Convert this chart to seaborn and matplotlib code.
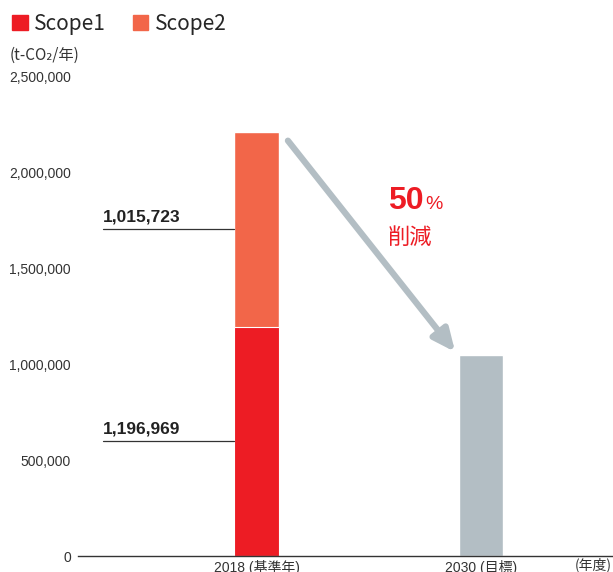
import numpy as np
import matplotlib
matplotlib.use("Agg")
import matplotlib.pyplot as plt
import matplotlib.patches as mpatches
import pandas as pd
import seaborn as sns

# data
years = ["2018 (基準年)", "2030 (目標)"]
scope1 = [1196969, 0]
scope2 = [1015723, 0]
target_2030 = 1050000
yticks = [0, 500000, 1000000, 1500000, 2000000, 2500000]

red = "#ed1c24"
orange = "#f26649"
gray = "#b3bec4"

sns.set_theme(style="white")
plt.rcParams['font.family'] = ['Liberation Sans', 'Noto Sans CJK JP', 'DejaVu Sans']

totals = [scope1[0] + scope2[0], target_2030]
df = pd.DataFrame({"year": years, "total": totals, "scope1": scope1})

fig = plt.figure(figsize=(6.13, 5.72), dpi=100)
ax = fig.add_axes([78 / 613, 16 / 572, 535 / 613, 479 / 572])

# orange = total for 2018, gray for 2030 target
sns.barplot(data=df, x="year", y="total", hue="year", palette=[orange, gray],
            width=0.2, legend=False, ax=ax, saturation=1)
# red scope1 on the bottom
sns.barplot(data=df.iloc[:1], x="year", y="scope1", color=red, width=0.2,
            ax=ax, saturation=1, edgecolor="white", linewidth=0.8)

ax.set_ylim(0, 2500000)
ax.set_xlim(-0.795, 1.588)
ax.set_yticks(yticks)
ax.set_yticklabels([f"{v:,}" for v in yticks], fontsize=10, color="#333333")
ax.tick_params(axis="y", length=0, pad=5)
ax.tick_params(axis="x", length=0, pad=3, labelsize=10, labelcolor="#333333")
ax.set_xlabel("")
ax.set_ylabel("")
for s in ["top", "right", "left"]:
    ax.spines[s].set_visible(False)
ax.spines["bottom"].set_color("#333333")
ax.spines["bottom"].set_linewidth(1)

# value callouts with leader lines
mids = [scope1[0] / 2, scope1[0] + scope2[0] / 2]
vals = [scope1[0], scope2[0]]
for m, v in zip(mids, vals):
    ax.plot([-0.684, -0.1], [m, m], color="#333333", lw=0.9)
    ax.text(-0.684, m + 25000, f"{v:,}", fontsize=12.5, fontweight="bold",
            color="#222222", ha="left", va="bottom")

# reduction arrow
ax.annotate("", xy=(0.885, target_2030 + 15000), xytext=(0.14, totals[0] - 45000),
            arrowprops=dict(arrowstyle="-|>,head_length=1.1,head_width=0.5",
                            color=gray, lw=4.5, shrinkA=0, shrinkB=0))

ax.text(0.586, 1810000, "50", fontsize=23, fontweight="bold", color=red,
        ha="left", va="baseline")
ax.text(0.752, 1810000, "%", fontsize=14, color=red, ha="left", va="baseline")
ax.text(0.586, 1630000, "削減", fontsize=16, color=red, ha="left", va="baseline",
        family=['Noto Sans CJK JP'])

# unit labels
fig.text(10 / 613, 1 - 55 / 572, "(t-CO₂/年)", fontsize=11, color="#333333",
         ha="left", va="center", family=['Noto Sans CJK JP', 'DejaVu Sans'])
fig.text(612 / 613, 1 - 565 / 572, "(年度)", fontsize=10, color="#333333",
         ha="right", va="center", family=['Noto Sans CJK JP'])

handles = [mpatches.Patch(color=red, label="Scope1"),
           mpatches.Patch(color=orange, label="Scope2")]
fig.legend(handles=handles, loc="upper left", bbox_to_anchor=(12 / 613, 1 - 13 / 572),
           ncol=2, frameon=False, handlelength=0.75, handleheight=0.75,
           handletextpad=0.3, columnspacing=1.3, borderpad=0, borderaxespad=0,
           prop={'family': ['Noto Sans CJK JP'], 'size': 15})

fig.savefig("out.png", dpi=100)
